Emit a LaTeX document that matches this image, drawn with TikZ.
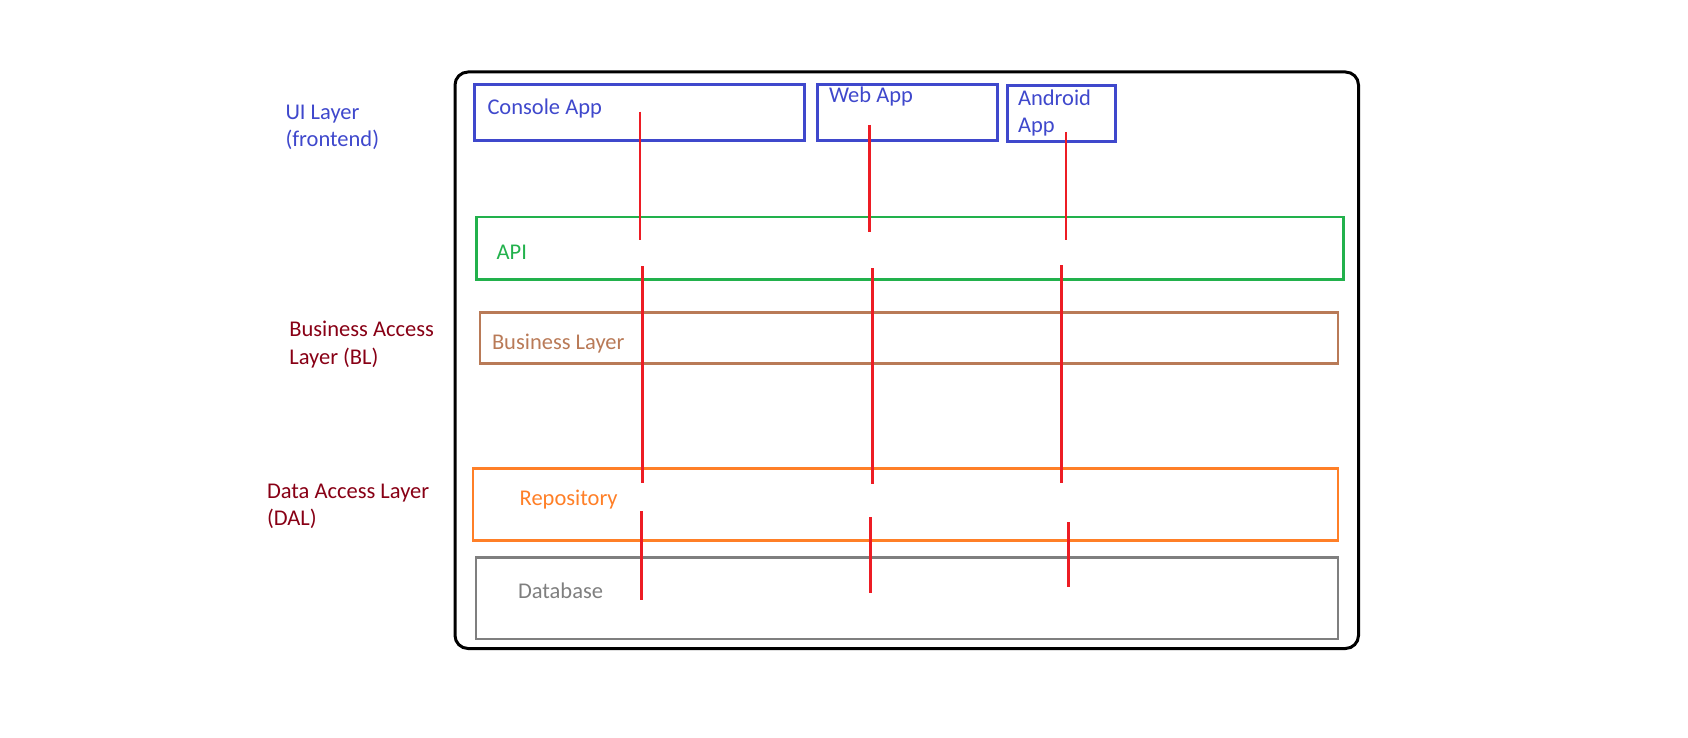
\documentclass[tikz,border=0pt]{standalone}
\usepackage{fontspec}
\setmainfont{Carlito}
\definecolor{uiblue}{RGB}{63,72,204}
\definecolor{apigreen}{RGB}{34,177,76}
\definecolor{blbrown}{RGB}{185,122,87}
\definecolor{repoorange}{RGB}{255,127,39}
\definecolor{dbgray}{RGB}{127,127,127}
\definecolor{linkred}{RGB}{237,28,36}
\definecolor{darkred}{RGB}{136,0,21}
\begin{document}
\begin{tikzpicture}[x=1pt,y=-1pt,
  every node/.style={inner sep=0pt, outer sep=0pt},
  txt/.style={anchor=base west, align=left, font=\fontsize{22.5}{27.5}\selectfont},
  layerbox/.style={draw, anchor=north west, line width=2.6pt},
  redline/.style={draw=linkred, line width=2.4pt}]
\useasboundingbox (0,0) rectangle (1688,738);
% outer frame
\draw[line width=3pt, rounded corners=13pt] (455,72) rectangle (1358.5,648.5);
% boxes
\node[layerbox, draw=uiblue, line width=3pt, minimum width=330pt, minimum height=56pt] (console) at (474,85) {};
\node[layerbox, draw=uiblue, line width=3pt, minimum width=180.5pt, minimum height=56pt] (web) at (817,84.3) {};
\node[layerbox, draw=uiblue, line width=3pt, minimum width=108.7pt, minimum height=56.7pt] (android) at (1007,85.3) {};
\node[layerbox, draw=apigreen, minimum width=867pt, minimum height=62.3pt] (api) at (476.5,217) {};
\node[layerbox, draw=blbrown, minimum width=858pt, minimum height=51.4pt] (bl) at (480,312.3) {};
\node[layerbox, draw=repoorange, minimum width=865pt, minimum height=71.8pt] (repo) at (473,468.5) {};
\node[layerbox, draw=dbgray, minimum width=862pt, minimum height=81.5pt] (db) at (476,557.5) {};
% labels (multi-line nodes are placed by the baseline of their last line)
\node[txt, text=uiblue] (uilab) at (285.5,146.8) {UI Layer\\(frontend)};
\node[txt, text=darkred] (bllab) at (289.3,364.2) {Business Access\\Layer (BL)};
\node[txt, text=darkred] (dallab) at (267,525.8) {Data Access Layer\\(DAL)};
\node[txt, text=uiblue] (consoletxt) at (487.5,115) {Console App};
\node[txt, text=uiblue] (webtxt) at (829,102.7) {Web App};
\node[txt, text=uiblue] (androidtxt) at (1018,132.8) {Android\\App};
\node[txt, text=apigreen] (apitxt) at (496.7,259) {API};
\node[txt, text=blbrown] (bltxt) at (492,349.3) {Business Layer};
\node[txt, text=repoorange] (repotxt) at (519.7,505) {Repository};
\node[txt, text=dbgray] (dbtxt) at (518,598.3) {Database};
% red link segments
\coordinate (c1a) at (640,111.7);   \coordinate (c1b) at (640,240);
\coordinate (c2a) at (642.5,266);   \coordinate (c2b) at (642.5,483.3);
\coordinate (c3a) at (641.4,511);   \coordinate (c3b) at (641.4,600);
\coordinate (w1a) at (869.3,125);   \coordinate (w1b) at (869.3,231.7);
\coordinate (w2a) at (872.3,268);   \coordinate (w2b) at (872.3,484);
\coordinate (w3a) at (870.3,517);   \coordinate (w3b) at (870.3,592.7);
\coordinate (a1a) at (1066,132);    \coordinate (a1b) at (1066,240);
\coordinate (a2a) at (1061.3,265);  \coordinate (a2b) at (1061.3,482.7);
\coordinate (a3a) at (1068.3,522);  \coordinate (a3b) at (1068.3,586.7);
\draw[redline] (c1a) -- (c1b);
\draw[redline] (c2a) -- (c2b);
\draw[redline] (c3a) -- (c3b);
\draw[redline] (w1a) -- (w1b);
\draw[redline] (w2a) -- (w2b);
\draw[redline] (w3a) -- (w3b);
\draw[redline] (a1a) -- (a1b);
\draw[redline] (a2a) -- (a2b);
\draw[redline] (a3a) -- (a3b);
\end{tikzpicture}
\end{document}
